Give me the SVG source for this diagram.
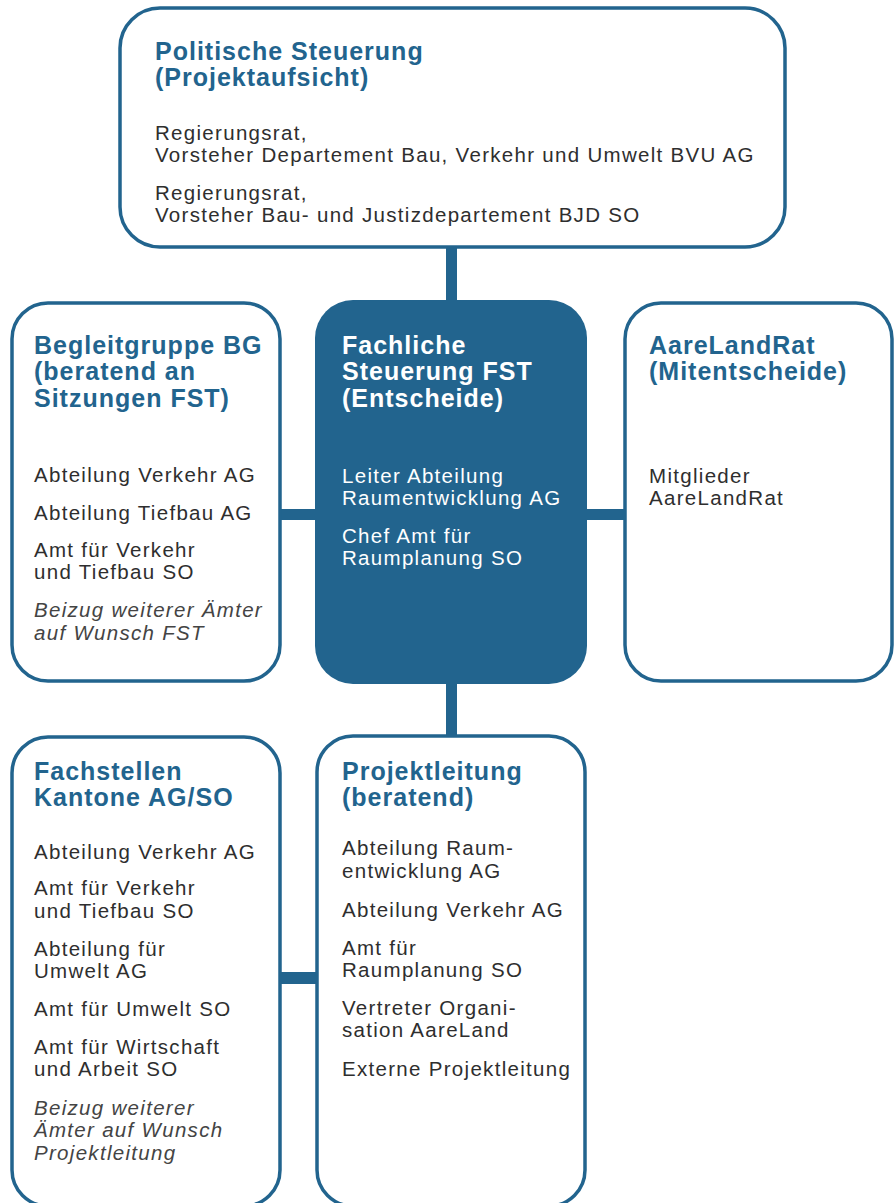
<svg xmlns="http://www.w3.org/2000/svg" width="894" height="1203" viewBox="0 0 894 1203">
  <style>
    .box { fill: #ffffff; stroke: #22648e; stroke-width: 3.5; }
    .box-filled { fill: #22648e; stroke: none; }
    .link { fill: #22648e; }
    .title { font-family: "Liberation Sans", Arial, sans-serif; font-weight: bold; font-size: 25px; letter-spacing: 1px; fill: #22648e; }
    .title-inv { fill: #ffffff; }
    .body { font-family: "Liberation Sans", Arial, sans-serif; font-size: 20.5px; letter-spacing: 1.3px; fill: #2e2e2e; }
    .body-inv { fill: #ffffff; }
    .note { font-style: italic; fill: #444444; }
  </style>

  <!-- connectors -->
  <g id="connectors">
    <rect class="link" x="446" y="247" width="11" height="55"/>
    <rect class="link" x="280" y="509" width="37" height="11"/>
    <rect class="link" x="585" y="509" width="41" height="11"/>
    <rect class="link" x="446" y="682" width="11" height="56"/>
    <rect class="link" x="280" y="972" width="38" height="12"/>
  </g>

  <!-- Politische Steuerung -->
  <g id="politische-steuerung">
    <rect class="box" x="120" y="8" width="665" height="239" rx="40" ry="40"/>
    <text class="title" x="155" y="60">Politische Steuerung</text>
    <text class="title" x="155" y="86">(Projektaufsicht)</text>
    <text class="body" x="155" y="140">Regierungsrat,</text>
    <text class="body" x="155" y="162">Vorsteher Departement Bau, Verkehr und Umwelt BVU AG</text>
    <text class="body" x="155" y="200">Regierungsrat,</text>
    <text class="body" x="155" y="222">Vorsteher Bau- und Justizdepartement BJD SO</text>
  </g>

  <!-- Begleitgruppe -->
  <g id="begleitgruppe">
    <rect class="box" x="12" y="303" width="268" height="378" rx="36" ry="36"/>
    <text class="title" x="34" y="354">Begleitgruppe BG</text>
    <text class="title" x="34" y="380">(beratend an</text>
    <text class="title" x="34" y="407">Sitzungen FST)</text>
    <text class="body" x="34" y="482">Abteilung Verkehr AG</text>
    <text class="body" x="34" y="520">Abteilung Tiefbau AG</text>
    <text class="body" x="34" y="557">Amt für Verkehr</text>
    <text class="body" x="34" y="579">und Tiefbau SO</text>
    <text class="body note" x="34" y="617">Beizug weiterer Ämter</text>
    <text class="body note" x="34" y="640">auf Wunsch FST</text>
  </g>

  <!-- Fachliche Steuerung -->
  <g id="fachliche-steuerung">
    <rect class="box-filled" x="315" y="300" width="272" height="384" rx="38" ry="38"/>
    <text class="title title-inv" x="342" y="354">Fachliche</text>
    <text class="title title-inv" x="342" y="380">Steuerung FST</text>
    <text class="title title-inv" x="342" y="407">(Entscheide)</text>
    <text class="body body-inv" x="342" y="483">Leiter Abteilung</text>
    <text class="body body-inv" x="342" y="505">Raumentwicklung AG</text>
    <text class="body body-inv" x="342" y="543">Chef Amt für</text>
    <text class="body body-inv" x="342" y="565">Raumplanung SO</text>
  </g>

  <!-- AareLandRat -->
  <g id="aarelandrat">
    <rect class="box" x="625" y="303" width="267" height="378" rx="36" ry="36"/>
    <text class="title" x="649" y="354">AareLandRat</text>
    <text class="title" x="649" y="380">(Mitentscheide)</text>
    <text class="body" x="649" y="483">Mitglieder</text>
    <text class="body" x="649" y="505">AareLandRat</text>
  </g>

  <!-- Fachstellen Kantone -->
  <g id="fachstellen">
    <rect class="box" x="12" y="737" width="268" height="469" rx="36" ry="36"/>
    <text class="title" x="34" y="780">Fachstellen</text>
    <text class="title" x="34" y="806">Kantone AG/SO</text>
    <text class="body" x="34" y="859">Abteilung Verkehr AG</text>
    <text class="body" x="34" y="895">Amt für Verkehr</text>
    <text class="body" x="34" y="918">und Tiefbau SO</text>
    <text class="body" x="34" y="956">Abteilung für</text>
    <text class="body" x="34" y="978">Umwelt AG</text>
    <text class="body" x="34" y="1016">Amt für Umwelt SO</text>
    <text class="body" x="34" y="1054">Amt für Wirtschaft</text>
    <text class="body" x="34" y="1076">und Arbeit SO</text>
    <text class="body note" x="34" y="1115">Beizug weiterer</text>
    <text class="body note" x="34" y="1137">Ämter auf Wunsch</text>
    <text class="body note" x="34" y="1160">Projektleitung</text>
  </g>

  <!-- Projektleitung -->
  <g id="projektleitung">
    <rect class="box" x="317" y="736" width="268" height="470" rx="36" ry="36"/>
    <text class="title" x="342" y="780">Projektleitung</text>
    <text class="title" x="342" y="806">(beratend)</text>
    <text class="body" x="342" y="855">Abteilung Raum-</text>
    <text class="body" x="342" y="878">entwicklung AG</text>
    <text class="body" x="342" y="917">Abteilung Verkehr AG</text>
    <text class="body" x="342" y="955">Amt für</text>
    <text class="body" x="342" y="977">Raumplanung SO</text>
    <text class="body" x="342" y="1015">Vertreter Organi-</text>
    <text class="body" x="342" y="1037">sation AareLand</text>
    <text class="body" x="342" y="1076">Externe Projektleitung</text>
  </g>
</svg>
